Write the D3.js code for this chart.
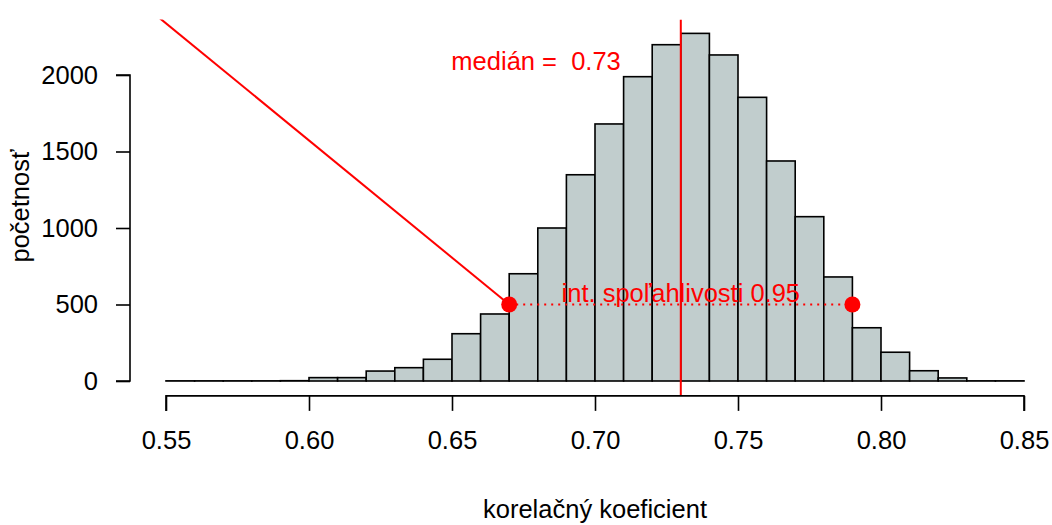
<!DOCTYPE html>
<html><head><meta charset="utf-8">
<script src="https://cdn.jsdelivr.net/npm/d3@7"></script>
<style>body{margin:0;background:#fff}svg{display:block;font-family:"Liberation Sans",Arial,sans-serif}</style>
</head><body><svg id="c" width="1052" height="525"></svg>
<script>
const binStarts = [0.55,0.56,0.57,0.58,0.59,0.60,0.61,0.62,0.63,0.64,0.65,0.66,0.67,0.68,0.69,0.70,0.71,0.72,0.73,0.74,0.75,0.76,0.77,0.78,0.79,0.80,0.81,0.82,0.83,0.84];
const counts = [1,1,1,1,2,22,22,65,87,142,309,438,701,1000,1348,1680,1989,2198,2272,2131,1854,1438,1074,680,348,188,67,20,1,1];
const binWidth = 0.01;
const xTicks = [0.55,0.60,0.65,0.70,0.75,0.80,0.85];
const yTicks = [0,500,1000,1500,2000];
const median = 0.73;
const ciLow = 0.67, ciHigh = 0.79, ciY = 500;
const pointerLine = [[0.5479,2370],[0.67,500]];
const medianLabel = "medián =  0.73";
const ciLabel = "int. spoľahlivosti 0.95";
const xTitle = "korelačný koeficient";
const yTitle = "početnosť";

const svg = d3.select("#c");
const x = d3.scaleLinear().domain([0.55,0.85]).range([166,1024]);
const y = d3.scaleLinear().domain([0,2000]).range([381,75]);
const plotTop = y(2363), plotBottom = y(-94);
const fs = 25.5;

svg.append("defs").append("clipPath").attr("id","pc").append("rect")
  .attr("x", x(0.538)).attr("y", plotTop).attr("width", x(0.862)-x(0.538)).attr("height", plotBottom-plotTop);

const g = svg.append("g").attr("clip-path","url(#pc)");
g.selectAll("rect.bar").data(binStarts).join("rect").attr("class","bar")
  .attr("x", d=>x(d)).attr("width", d=>x(d+binWidth)-x(d))
  .attr("y", (d,i)=>y(counts[i])).attr("height",(d,i)=>y(0)-y(counts[i]))
  .attr("fill","#C1CDCD").attr("stroke","#000").attr("stroke-width",1.6);

g.append("line").attr("x1",x(median)).attr("x2",x(median)).attr("y1",plotTop).attr("y2",plotBottom)
  .attr("stroke","#ff0000").attr("stroke-width",2);

g.append("line").attr("x1",x(ciLow)).attr("x2",x(ciHigh)).attr("y1",y(ciY)).attr("y2",y(ciY))
  .attr("stroke","#ff0000").attr("stroke-width",2).attr("stroke-dasharray","2,5");

g.append("path").attr("d", d3.line().x(d=>x(d[0])).y(d=>y(d[1]))(pointerLine))
  .attr("stroke","#ff0000").attr("stroke-width",2).attr("fill","none");

g.selectAll("circle.ci").data([ciLow,ciHigh]).join("circle").attr("class","ci")
  .attr("cx",d=>x(d)).attr("cy",y(ciY)).attr("r",8).attr("fill","#ff0000");

g.append("text").attr("x",x(median)).attr("y",302).attr("text-anchor","middle")
  .attr("font-size",fs).attr("fill","#ff0000").text(ciLabel);
g.append("text").attr("x",x(0.6794)).attr("y",70).attr("text-anchor","middle")
  .attr("font-size",fs).attr("fill","#ff0000").attr("xml:space","preserve").style("white-space","pre").text(medianLabel);

// x axis
const xa = svg.append("g").attr("transform",`translate(0,${plotBottom+0.5})`)
  .call(d3.axisBottom(x).tickValues(xTicks).tickFormat(d3.format(".2f")).tickSize(15).tickPadding(20));
xa.select(".domain").attr("d",`M${x(0.55)},15V0H${x(0.85)}V15`).attr("stroke-width",1.6);
xa.selectAll(".tick line").attr("stroke-width",1.6);
xa.selectAll("text").attr("font-size",fs).attr("font-family",null).attr("fill","#000");

// y axis
const ya = svg.append("g").attr("transform","translate(130,0)")
  .call(d3.axisLeft(y).tickValues(yTicks).tickFormat(d3.format("d")).tickSize(14).tickPadding(18));
ya.select(".domain").attr("d",`M-14,${y(2000)}H0V${y(0)}H-14`).attr("stroke-width",1.6);
ya.selectAll(".tick line").attr("stroke-width",1.6);
ya.selectAll("text").attr("font-size",fs).attr("font-family",null).attr("fill","#000");

svg.append("text").attr("x",(x(0.55)+x(0.85))/2).attr("y",518).attr("text-anchor","middle")
  .attr("font-size",fs).text(xTitle);
svg.append("text").attr("transform",`translate(29,${206}) rotate(-90)`).attr("text-anchor","middle")
  .attr("font-size",fs).text(yTitle);
</script></body></html>
